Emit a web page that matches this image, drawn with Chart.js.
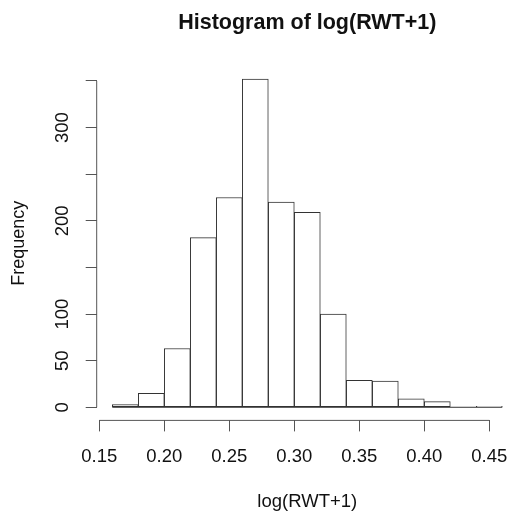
<!DOCTYPE html>
<html>
<head>
<meta charset="utf-8">
<script src="https://cdn.jsdelivr.net/npm/chart.js@4"></script>
<style>
  body { margin: 0; background: #fff; }
  #histChart { display: block; }
</style>
</head>
<body>
<canvas id="histChart" width="511" height="515"></canvas>
<script>
// bins of log(RWT+1), width 0.02
const binStarts = [0.16, 0.18, 0.20, 0.22, 0.24, 0.26, 0.28, 0.30, 0.32, 0.34, 0.36, 0.38, 0.40, 0.42, 0.44];
const binWidth = 0.02;
const counts = [3, 15, 63, 182, 225, 352, 220, 209, 100, 29, 28, 9, 6, 0, 1];
const xTicks = [0.15, 0.20, 0.25, 0.30, 0.35, 0.40, 0.45];
const yTicks = [0, 50, 100, 150, 200, 250, 300, 350];
const yTickLabels = [0, 50, 100, 200, 300];

const FONT = "'Liberation Sans', Arial, Helvetica, sans-serif";
const AXIS = '#555';
// full plot range (R pads the data range by 4%); the canvas cuts it on the right
const X_LO = 0.148, X_HI = 0.472;

// R-style axes: lines only span the ticks, labels on y are rotated
const rAxes = {
    id: 'rAxes',
    afterDraw(chart) {
        const c = chart.ctx;
        const x = chart.scales.x, y = chart.scales.y;
        const area = chart.chartArea;
        c.save();
        c.strokeStyle = AXIS;
        c.lineWidth = 1;
        c.beginPath();
        c.moveTo(x.getPixelForValue(xTicks[0]), area.bottom);
        c.lineTo(x.getPixelForValue(xTicks[xTicks.length - 1]), area.bottom);
        c.moveTo(area.left, y.getPixelForValue(yTicks[0]));
        c.lineTo(area.left, y.getPixelForValue(yTicks[yTicks.length - 1]));
        c.stroke();

        // bar bottoms (empty bins still show their base)
        c.strokeStyle = '#333';
        c.beginPath();
        const y0 = y.getPixelForValue(0);
        c.moveTo(x.getPixelForValue(binStarts[0]), y0);
        c.lineTo(x.getPixelForValue(binStarts[binStarts.length - 1] + binWidth), y0);
        c.stroke();

        c.fillStyle = '#111';
        c.font = '18.5px ' + FONT;
        c.textAlign = 'center';
        c.textBaseline = 'middle';
        yTickLabels.forEach(v => {
            c.save();
            c.translate(63, y.getPixelForValue(v));
            c.rotate(-Math.PI / 2);
            c.fillText(String(v), 0, 0);
            c.restore();
        });

        const mid = x.getPixelForValue((X_LO + X_HI) / 2);
        c.fillText('log(RWT+1)', mid, 502);
        c.font = 'bold 21.5px ' + FONT;
        c.fillText('Histogram of log(RWT+1)', mid, 23);
        c.restore();
    }
};

const ctx = document.getElementById('histChart').getContext('2d');
const histChart = new Chart(ctx, {
    type: 'bar',
    data: {
        datasets: [
            {
                label: 'Frequency',
                data: binStarts.map((s, i) => ({ x: s + binWidth / 2, y: counts[i] })),
                backgroundColor: '#ffffff',
                borderColor: '#333',
                borderWidth: 1,
                borderSkipped: false,
                barPercentage: 1,
                categoryPercentage: 1
            }
        ]
    },
    options: {
        responsive: false,
        devicePixelRatio: 1,
        animation: false,
        layout: {
            padding: { top: 66, left: 0, right: 0, bottom: 0 }
        },
        plugins: {
            legend: { display: false },
            tooltip: { enabled: false }
        },
        scales: {
            x: {
                type: 'linear',
                offset: false,
                min: X_LO,
                max: 0.4667,
                afterBuildTicks: axis => { axis.ticks = xTicks.map(v => ({ value: v })); },
                afterFit: axis => {
                    axis.height = 94.6;
                    axis.paddingLeft = 0;
                    axis.paddingRight = 0;
                },
                border: { display: false },
                grid: {
                    display: true,
                    offset: false,
                    drawOnChartArea: false,
                    drawTicks: true,
                    tickLength: 11,
                    tickColor: AXIS
                },
                ticks: {
                    autoSkip: false,
                    maxRotation: 0,
                    padding: 14,
                    color: '#111',
                    font: { family: FONT, size: 18.5 },
                    callback: v => v.toFixed(2)
                }
            },
            y: {
                min: -14.08,
                max: 366.08,
                afterBuildTicks: axis => { axis.ticks = yTicks.map(v => ({ value: v })); },
                afterFit: axis => { axis.width = 96.7; },
                border: { display: false },
                grid: {
                    display: true,
                    drawOnChartArea: false,
                    drawTicks: true,
                    tickLength: 11,
                    tickColor: AXIS
                },
                ticks: { display: false },
                title: {
                    display: true,
                    text: 'Frequency',
                    color: '#111',
                    font: { family: FONT, size: 18 },
                    padding: { top: 8, bottom: 0 }
                }
            }
        }
    },
    plugins: [rAxes]
});
</script>
</body>
</html>
